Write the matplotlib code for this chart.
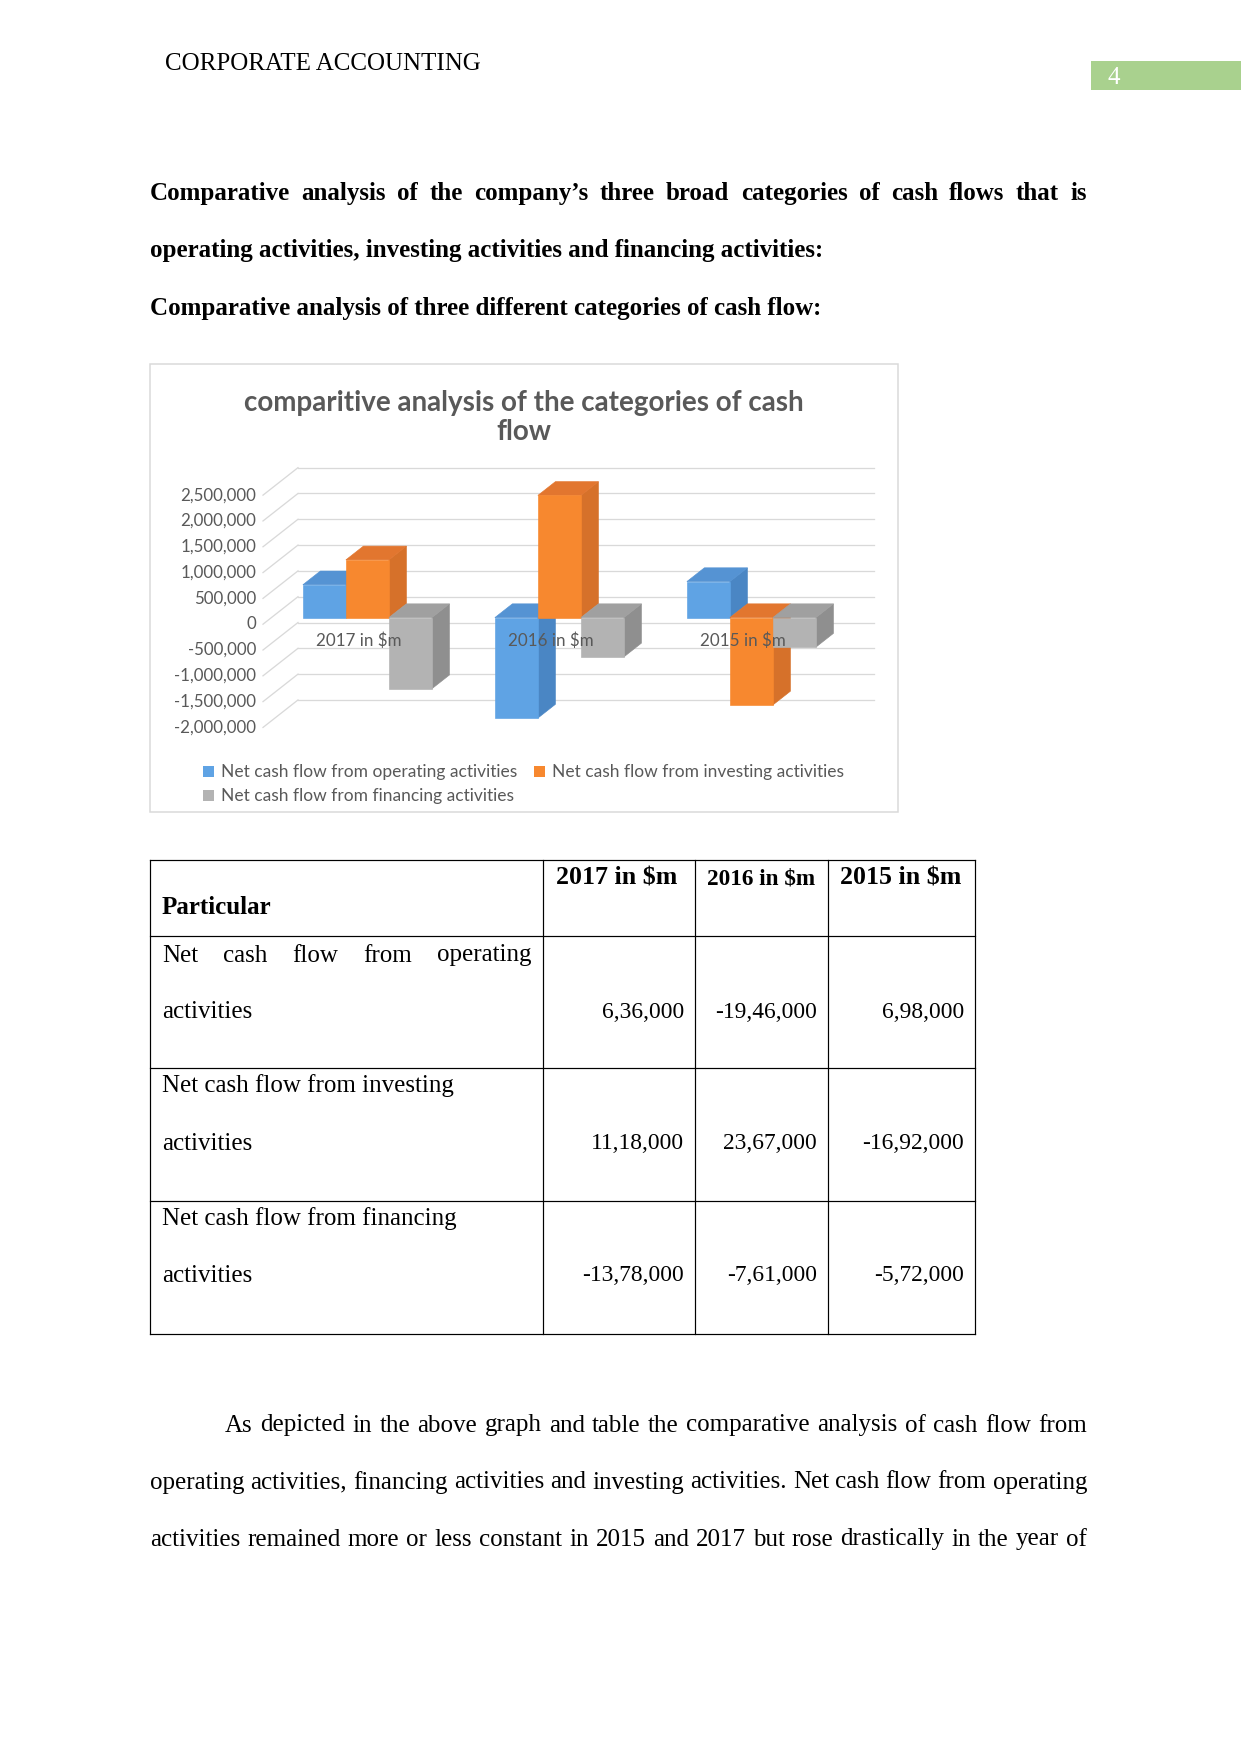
import matplotlib
matplotlib.use("Agg")
import matplotlib.pyplot as plt
from matplotlib.patches import Polygon, Rectangle, Patch

W, H = 1241, 1754
DPI = 150

# ---- data ----
categories = ["2017 in $m", "2016 in $m", "2015 in $m"]
series_names = ["Net cash flow from operating activities",
                "Net cash flow from investing activities",
                "Net cash flow from financing activities"]
operating = [636000, -1946000, 698000]
investing = [1118000, 2367000, -1692000]
financing = [-1378000, -761000, -572000]
y_ticks = [-2000000, -1500000, -1000000, -500000, 0,
           500000, 1000000, 1500000, 2000000, 2500000]

row_labels = [["Net", "cash", "flow", "from", "operating"],
              ["Net cash flow from investing"],
              ["Net cash flow from financing"]]

colors = {  # front, side, top
    0: ("#5FA3E4", "#4A86C4", "#5593D3"),
    1: ("#F7882F", "#D6712A", "#E2762F"),
    2: ("#B3B3B3", "#8F8F8F", "#A0A0A0"),
}

SERIF = "Liberation Serif"
SANS = "Lato"
GREY_TXT = "#595959"
PX = 72 / DPI  # one pixel in points
DY_TXT = 3.5   # serif text baseline nudge in pixels


def indian(n):
    s = str(abs(n))
    head, tail = s[:-3], s[-3:]
    parts = []
    while len(head) > 2:
        parts.insert(0, head[-2:])
        head = head[:-2]
    if head:
        parts.insert(0, head)
    out = ",".join(parts + [tail]) if parts else tail
    return ("-" if n < 0 else "") + out


fig = plt.figure(figsize=(W / DPI, H / DPI), dpi=DPI)
ax = fig.add_axes([0, 0, 1, 1])
ax.set_xlim(0, W)
ax.set_ylim(H, 0)
ax.axis("off")
renderer = fig.canvas.get_renderer()


def justify(words, x0, x1, y, **kw):
    texts = [ax.text(0, y + DY_TXT, w, va="center", ha="left", **kw) for w in words]
    widths = [t.get_window_extent(renderer).width for t in texts]
    gap = (x1 - x0 - sum(widths)) / max(len(words) - 1, 1)
    x = x0
    for t, w in zip(texts, widths):
        t.set_x(x)
        x += w + gap


def txt(x, y, s, **kw):
    kw.setdefault("va", "center")
    kw.setdefault("family", SERIF)
    kw.setdefault("fontsize", 12)
    return ax.text(x, y + DY_TXT, s, **kw)


# ---- page header ----
txt(165, 61, "CORPORATE ACCOUNTING")
ax.add_patch(Rectangle((1091, 61), 150, 29, facecolor="#A9D18E", edgecolor="none"))
txt(1107, 74, "4", color="white")

# ---- bold intro ----
line1 = "Comparative analysis of the company\u2019s three broad categories of cash flows that is"
justify(line1.split(), 150, 1087, 190, family=SERIF, fontsize=12, fontweight="bold")
txt(150, 247, "operating activities, investing activities and financing activities:", fontweight="bold")
txt(150, 305, "Comparative analysis of three different categories of cash flow:", fontweight="bold")

# ---- chart ----
ax.add_patch(Rectangle((150, 364), 748, 448, facecolor="white",
                       edgecolor="#D9D9D9", lw=1.5 * PX))
title_kw = dict(ha="center", va="center", family=SANS, fontweight="bold",
                fontsize=13.3, color=GREY_TXT)
ax.text(524, 403, "comparitive analysis of the categories of cash", **title_kw)
ax.text(524, 432, "flow", **title_kw)

X0_PX, CAT_PX, ZERO_PX, PX_PER_M = 298, 192, 596.7, 51.62
L, T, R, B = 150, 364, 898, 812
axc = fig.add_axes([L / W, 1 - B / H, (R - L) / W, (B - T) / H])
axc.set_xlim((L - X0_PX) / CAT_PX, (R - X0_PX) / CAT_PX)
axc.set_ylim((ZERO_PX - B) / PX_PER_M * 1e6, (ZERO_PX - T) / PX_PER_M * 1e6)
axc.axis("off")

DXu = 35 / CAT_PX
DYv = 27.5 / PX_PER_M * 1e6
D_FRONT, D_BACK = 0.24, 0.74
GROUP_W = 0.672
BAR_W = GROUP_W / 3


def P(x, v, d):
    return (x + (d - 1) * DXu, v + (d - 1) * DYv)


n = len(categories)
grid_c = "#D9D9D9"
for v in y_ticks:
    a, b = P(0, v, 0), P(0, v, 1)
    axc.plot([a[0], b[0]], [a[1], b[1]], color=grid_c, lw=1.3 * PX, zorder=1)
    c = P(n, v, 1)
    axc.plot([b[0], c[0]], [b[1], c[1]], color=grid_c, lw=1.3 * PX, zorder=1)
    axc.text(a[0] - 7 / CAT_PX, a[1], f"{v:,}", ha="right", va="center",
             family=SANS, fontsize=8.1, color=GREY_TXT)

series = [operating, investing, financing]
z = 2
for i in range(n):
    for j, vals in enumerate(series):
        v = vals[i]
        x0 = i + 0.5 - GROUP_W / 2 + j * BAR_W
        x1 = x0 + BAR_W
        top = max(v, 0)
        front, side, topc = colors[j]
        faces = [
            ([P(x1, 0, D_FRONT), P(x1, 0, D_BACK), P(x1, v, D_BACK), P(x1, v, D_FRONT)], side),
            ([P(x0, top, D_FRONT), P(x1, top, D_FRONT), P(x1, top, D_BACK), P(x0, top, D_BACK)], topc),
            ([P(x0, 0, D_FRONT), P(x1, 0, D_FRONT), P(x1, v, D_FRONT), P(x0, v, D_FRONT)], front),
        ]
        for pts, col in faces:
            axc.add_patch(Polygon(pts, closed=True, facecolor=col,
                                  edgecolor=col, lw=0.3, zorder=z))
            z += 1

for i, cat in enumerate(categories):
    x, y = P(i + 0.5, 0, 0)
    axc.text(x, y - 17 / PX_PER_M * 1e6, cat, ha="center", va="center",
             family=SANS, fontsize=8.2, color=GREY_TXT, zorder=100)

handles = [Patch(facecolor=colors[k][0], edgecolor="none") for k in range(3)]
order = [0, 2, 1]
leg = axc.legend([handles[k] for k in order], [series_names[k] for k in order],
                 ncol=2, loc="upper left", frameon=False,
                 bbox_to_anchor=(191 / W, 1 - 752 / H),
                 bbox_transform=fig.transFigure,
                 prop={"family": SANS, "size": 8.35},
                 handlelength=0.6, handleheight=0.6, handletextpad=0.4,
                 columnspacing=1.0, labelspacing=0.47, borderpad=0.2)
for t in leg.get_texts():
    t.set_color(GREY_TXT)

# ---- table ----
col_x = [150, 543, 695, 828, 975]
row_y = [860, 936, 1068, 1201, 1334]
lw = 1.2 * PX
for x in col_x:
    ax.plot([x, x], [row_y[0], row_y[-1]], color="black", lw=lw)
for y in row_y:
    ax.plot([col_x[0], col_x[-1]], [y, y], color="black", lw=lw)

txt(162, 904, "Particular", fontweight="bold")
txt(556, 874, categories[0], fontweight="bold", fontsize=12.4)
txt(707, 876, categories[1], fontweight="bold", fontsize=11.2)
txt(840, 874, categories[2], fontweight="bold", fontsize=12.4)

first_y = [952, 1082, 1215]
second_y = [1009, 1140, 1272]
for r in range(3):
    if r == 0:
        justify(row_labels[0], 162, 532, first_y[r], family=SERIF, fontsize=12)
    else:
        txt(162, first_y[r], row_labels[r][0])
    txt(162, second_y[r], "activities")
    for c in range(3):
        txt(col_x[c + 2] - 11, second_y[r], indian(series[r][c]), ha="right",
            fontsize=11.3)

# ---- body paragraph ----
para = [
    (225, "As depicted in the above graph and table the comparative analysis of cash flow from", 1422),
    (150, "operating activities, financing activities and investing activities. Net cash flow from operating", 1479),
    (150, "activities remained more or less constant in 2015 and 2017 but rose drastically in the year of", 1536),
]
for x0, s, y in para:
    justify(s.split(), x0, 1087, y, family=SERIF, fontsize=12)

fig.savefig("out.png", dpi=DPI)
